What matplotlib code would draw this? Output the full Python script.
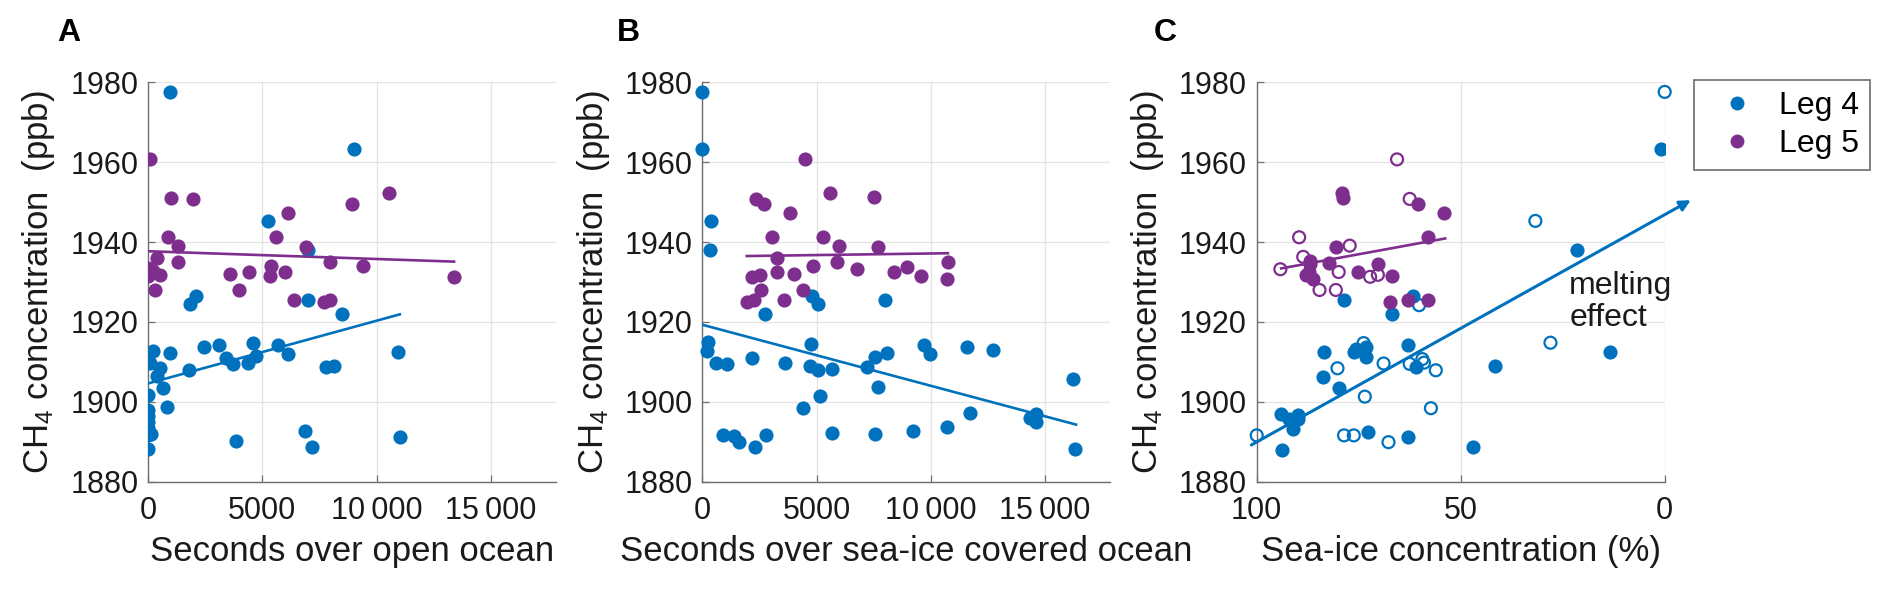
import numpy as np
import matplotlib
matplotlib.use("Agg")
import matplotlib.pyplot as plt
from matplotlib.lines import Line2D
from matplotlib.ticker import FuncFormatter

plt.rcParams['font.family'] = ['Liberation Sans', 'DejaVu Sans']
plt.rcParams['mathtext.fontset'] = 'custom'
plt.rcParams['mathtext.rm'] = 'Liberation Sans'
plt.rcParams['mathtext.default'] = 'rm'

# ---- data ----
# panel A: seconds over open ocean
a_leg4_x = [984, 9016, 5234, 7016, 2109, 1828, 7016, 8500, 234, 953, 2438, 3125,
            4578, 5703, 6125, 3391, 3734, 4359, 4734, 78, 516, 391, 1797, 672,
            7797, 8125, 10922, 0, 850, 0, 0, 0, 0, 150, 0, 0, 3850, 6870, 7190, 11040]
a_leg4_y = [1977.6, 1963.4, 1945.3, 1937.9, 1926.4, 1924.4, 1925.6, 1922.1, 1912.8, 1912.3, 1913.8, 1914.3,
            1914.8, 1914.3, 1912.0, 1910.9, 1909.5, 1909.8, 1911.4, 1909.6, 1908.4, 1906.5, 1907.9, 1903.4,
            1908.7, 1908.9, 1912.5, 1901.6, 1898.7, 1898.0, 1896.5, 1895.0, 1893.5, 1892.0, 1891.8, 1888.2,
            1890.1, 1892.6, 1888.8, 1891.3]
a_leg5_x = [78, 1016, 1953, 6141, 8922, 10547, 891, 1297, 5609, 6922, 391, 1328, 16, 16,
            516, 328, 3594, 4438, 3984, 5391, 5328, 5984, 6391, 7719, 7969, 7953, 9422, 13391, 234]
a_leg5_y = [1960.7, 1951.1, 1950.8, 1947.4, 1949.5, 1952.4, 1941.2, 1939.1, 1941.2, 1938.8, 1936.1, 1934.9,
            1933.5, 1931.6, 1931.7, 1928.0, 1932.1, 1932.5, 1928.0, 1933.9, 1931.4, 1932.5, 1925.4, 1924.9,
            1925.6, 1934.9, 1934.1, 1931.3, 1932.7]
a_fit4_x, a_fit4_y = [0, 11016], [1904.6, 1921.9]
a_fit5_x, a_fit5_y = [0, 13391], [1937.7, 1935.1]

# panel B: seconds over sea-ice covered ocean
b_leg4_x = [7, 7, 365, 336, 4781, 5044, 7997, 2763, 263, 190, 600, 1096, 2178, 3626, 4751, 4693,
            5044, 5687, 7208, 7573, 8085, 9693, 9942, 11594, 12705,
            5150, 4420, 7670, 920, 1400, 1600, 2300, 2790, 5660, 7560, 9230, 10690, 11690,
            14330, 14620, 14580, 16230, 16320]
b_leg4_y = [1977.6, 1963.4, 1945.3, 1937.9, 1926.4, 1924.4, 1925.6, 1922.1, 1915.0, 1912.6, 1909.8, 1909.5,
            1910.9, 1909.6, 1914.5, 1908.9, 1907.9, 1908.3, 1908.7, 1911.2, 1912.3, 1914.3, 1912.0, 1913.8,
            1912.9, 1901.4, 1898.5, 1903.6, 1891.8, 1891.5, 1889.9, 1888.8, 1891.8, 1892.2, 1892.0, 1892.6,
            1893.6, 1897.3, 1896.0, 1897.0, 1895.0, 1905.6, 1888.2]
b_leg5_x = [4488, 5570, 7529, 2354, 2705, 3816, 3056, 5278, 5965, 7705, 3260, 5892, 4839, 3260,
            3991, 6769, 8377, 8962, 9547, 10746, 10687, 2178, 2529, 2588, 4386, 1945, 2266, 3582]
b_leg5_y = [1960.7, 1952.4, 1951.2, 1950.8, 1949.5, 1947.4, 1941.2, 1941.2, 1939.1, 1938.8, 1936.1, 1934.9,
            1934.1, 1932.5, 1932.1, 1933.3, 1932.5, 1933.8, 1931.6, 1934.9, 1930.8, 1931.3, 1931.7, 1928.0,
            1928.0, 1924.9, 1925.6, 1925.4]
b_fit4_x, b_fit4_y = [0, 16350], [1919.3, 1894.3]
b_fit5_x, b_fit5_y = [1945, 10746], [1936.5, 1937.2]

# panel C: sea-ice concentration (%), filled and open markers
c_leg4_x = [1.0, 21.4, 78.6, 61.7, 66.8, 13.4, 41.5, 83.4, 76.2, 75.6, 73.2, 73.2, 62.9, 83.7,
            79.9, 60.9, 94.0, 90.0, 92.0, 90.0, 91.1, 93.8, 72.7, 62.8, 46.9]
c_leg4_y = [1963.4, 1937.9, 1925.6, 1926.4, 1922.1, 1912.5, 1908.9, 1912.4, 1912.5, 1913.1, 1913.8, 1911.2,
            1914.3, 1906.3, 1903.4, 1908.6, 1897.0, 1896.7, 1895.6, 1895.6, 1893.2, 1888.0, 1892.5, 1891.2,
            1888.7]
c_leg4_open_x = [0.0, 31.7, 60.2, 28.0, 73.8, 68.9, 80.2, 73.5, 62.5, 59.4, 59.0, 56.1, 57.3,
                 100.0, 78.6, 76.2, 67.7]
c_leg4_open_y = [1977.6, 1945.3, 1924.2, 1914.8, 1914.7, 1909.6, 1908.4, 1901.3, 1909.5, 1910.7, 1909.8,
                 1907.9, 1898.4, 1891.6, 1891.6, 1891.6, 1889.9]
c_leg5_x = [79.1, 78.8, 60.5, 54.0, 58.1, 80.5, 87.0, 86.9, 82.3, 70.3, 88.0, 86.2, 87.3, 75.2,
            66.8, 67.3, 62.9, 58.1]
c_leg5_y = [1952.2, 1951.0, 1949.5, 1947.2, 1941.2, 1938.8, 1935.3, 1934.4, 1934.7, 1934.4, 1931.8, 1930.8,
            1932.5, 1932.5, 1931.4, 1924.9, 1925.4, 1925.4]
c_leg5_open_x = [65.6, 62.5, 89.6, 77.2, 88.6, 94.2, 79.9, 72.2, 70.3, 84.6, 80.6]
c_leg5_open_y = [1960.7, 1950.8, 1941.2, 1939.1, 1936.3, 1933.2, 1932.5, 1931.3, 1931.8, 1928.0, 1928.0]
c_fit4_x, c_fit4_y = [101.3, -6.4], [1889.2, 1950.5]
c_fit5_x, c_fit5_y = [94.0, 53.8], [1933.4, 1940.9]

xlabels = ['Seconds over open ocean', 'Seconds over sea-ice covered ocean',
           'Sea-ice concentration (%)']
panel_names = ['A', 'B', 'C']
legend_names = ['Leg 4', 'Leg 5']

blue = '#0072BD'
purple = '#7E2F8E'
axcol = '#6e6e6e'

W, H = 1892, 592
fig = plt.figure(figsize=(W / 100, H / 100), dpi=100)

lefts = [148, 702.3, 1256.7]
label_x = [57, 617, 1154]
axes = []
for i in range(3):
    ax = fig.add_axes([lefts[i] / W, 1 - 481.7 / H, 408 / W, 399.4 / H])
    axes.append(ax)

def thin_sep(v, pos):
    v = int(round(v))
    if v >= 10000:
        return f"{v:,}".replace(',', '\u2009')
    return str(v)

s_dot = 104
s_open = 74
lw_fit = 1.9
ax1, ax2, ax3 = axes
ax1.scatter(a_leg4_x, a_leg4_y, s=s_dot, color=blue, lw=0, zorder=3)
ax1.scatter(a_leg5_x, a_leg5_y, s=s_dot, color=purple, lw=0, zorder=3)
ax1.plot(a_fit4_x, a_fit4_y, color=blue, lw=lw_fit, zorder=4)
ax1.plot(a_fit5_x, a_fit5_y, color=purple, lw=lw_fit, zorder=4)

ax2.scatter(b_leg4_x, b_leg4_y, s=s_dot, color=blue, lw=0, zorder=3, clip_on=False)
ax2.scatter(b_leg5_x, b_leg5_y, s=s_dot, color=purple, lw=0, zorder=3)
ax2.plot(b_fit4_x, b_fit4_y, color=blue, lw=lw_fit, zorder=4)
ax2.plot(b_fit5_x, b_fit5_y, color=purple, lw=lw_fit, zorder=4)

ax3.scatter(c_leg4_x, c_leg4_y, s=s_dot, color=blue, lw=0, zorder=3)
ax3.scatter(c_leg4_open_x, c_leg4_open_y, s=s_open, facecolors='none', edgecolors=blue,
            lw=1.6, zorder=3, clip_on=False)
ax3.scatter(c_leg5_x, c_leg5_y, s=s_dot, color=purple, lw=0, zorder=3)
ax3.scatter(c_leg5_open_x, c_leg5_open_y, s=s_open, facecolors='none', edgecolors=purple,
            lw=1.6, zorder=3)
ax3.plot(c_fit5_x, c_fit5_y, color=purple, lw=lw_fit, zorder=4)
ax3.annotate('', xy=(c_fit4_x[1], c_fit4_y[1]), xytext=(c_fit4_x[0], c_fit4_y[0]),
             arrowprops=dict(arrowstyle='-|>', color=blue, lw=2.2, mutation_scale=16,
                             shrinkA=0, shrinkB=0),
             annotation_clip=False, zorder=4)
ax3.text(23.4, 1925, 'melting\neffect', fontsize=23, ha='left', va='center',
         linespacing=1.1, color='#1a1a1a')

for i, ax in enumerate(axes):
    ax.set_ylim(1880, 1980)
    ax.set_yticks(np.arange(1880, 1981, 20))
    if i < 2:
        ax.set_xlim(0, 17850)
        ax.set_xticks([0, 5000, 10000, 15000])
        ax.xaxis.set_major_formatter(FuncFormatter(thin_sep))
    else:
        ax.set_xlim(100, 0)
        ax.set_xticks([100, 50, 0])
    ax.grid(True, color='#e3e3e3', lw=0.9)
    ax.set_axisbelow(True)
    for side in ['top', 'right']:
        ax.spines[side].set_visible(False)
    for side in ['left', 'bottom']:
        ax.spines[side].set_color(axcol)
        ax.spines[side].set_linewidth(1.0)
    ax.tick_params(axis='both', direction='in', length=5, width=0.9, color=axcol,
                   labelsize=22, labelcolor='#1a1a1a')
    ax.tick_params(axis='x', pad=10)
    ax.tick_params(axis='y', pad=7)
    ax.set_xlabel(xlabels[i], fontsize=25, color='#1a1a1a')
    ax.xaxis.set_label_coords(0.5, -0.133)
    ax.set_ylabel('CH$_4$ concentration  (ppb)', fontsize=25, color='#1a1a1a')
    ax.yaxis.set_label_coords(-0.222, 0.5)
    fig.text(label_x[i] / W, 1 - 33 / H, panel_names[i], fontsize=23,
             fontweight='bold', ha='left', va='center')

handles = [Line2D([], [], ls='none', marker='o', markersize=9, color=blue),
           Line2D([], [], ls='none', marker='o', markersize=9, color=purple)]
leg = fig.legend(handles, legend_names, loc='upper left',
                 bbox_to_anchor=(1694 / W, 1 - 80 / H), borderaxespad=0,
                 fontsize=23, frameon=True, fancybox=False, handlelength=2.0,
                 handletextpad=0.3, borderpad=0.35, labelspacing=0.25)
leg.get_frame().set_edgecolor('#555555')
leg.get_frame().set_linewidth(1.3)

fig.savefig('out.png', dpi=100)
